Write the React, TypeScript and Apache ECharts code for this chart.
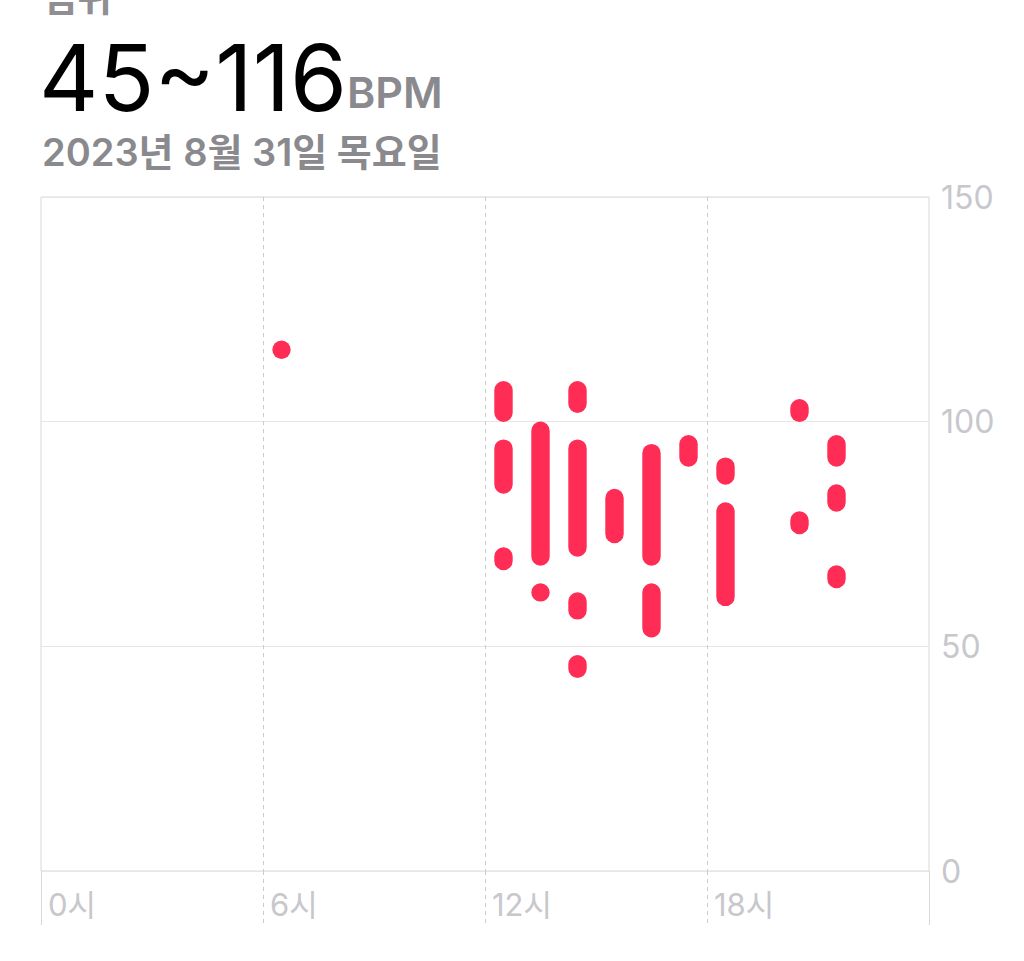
import React, { useEffect, useRef } from "react";
import * as echarts from "echarts";

// Heart rate ranges, hour of day (bin centre), max bpm, min bpm
const hours = [6.5, 12.5, 12.5, 12.5, 13.5, 13.5, 14.5, 14.5, 14.5, 14.5, 15.5, 16.5, 16.5, 17.5, 18.5, 18.5, 20.5, 20.5, 21.5, 21.5, 21.5];
const maxBpm = [116, 107, 94, 70, 98, 62, 107, 94, 60, 46, 83, 93, 62, 95, 90, 80, 103, 78, 95, 84, 66];
const minBpm = [116, 102, 86, 69, 70, 62, 104, 72, 58, 45, 75, 70, 54, 92, 88, 61, 102, 77, 92, 82, 65];

const titleLabel = "범위";
const rangeText = "45~116";
const unitText = "BPM";
const dateText = "2023년 8월 31일 목요일";
const hourSuffix = "시";

const FONT = "Inter, 'Noto Sans CJK KR', sans-serif";
const PINK = "#FF2D55";

export default function App() {
  const ref = useRef<HTMLDivElement>(null);
  useEffect(() => {
    if (!ref.current) return;
    const chart = echarts.init(ref.current, null, { renderer: "svg" });
    const data = hours.map((h, i) => [h, maxBpm[i], minBpm[i]]);
    chart.setOption({
      animation: false,
      backgroundColor: "#ffffff",
      textStyle: { fontFamily: FONT },
      grid: {
        left: 41,
        right: 95,
        top: 197,
        bottom: 90,
        show: true,
        borderColor: "#d8d8d8",
        borderWidth: 1,
        backgroundColor: "transparent",
      },
      graphic: [
        {
          type: "text",
          left: 42,
          top: -22,
          style: { text: titleLabel, font: `600 38px ${FONT}`, fill: "#8e8e93" },
        },
        {
          type: "text",
          x: 39,
          y: 77,
          style: {
            text: rangeText,
            font: `400 92px ${FONT}`,
            fill: "#000000",
            verticalAlign: "middle",
            align: "left",
          },
        },
        {
          type: "text",
          x: 347,
          y: 92,
          style: {
            text: unitText,
            font: `600 43px ${FONT}`,
            fill: "#8a8a8e",
            verticalAlign: "middle",
            align: "left",
          },
        },
        {
          type: "text",
          x: 42,
          y: 152,
          style: {
            text: dateText,
            font: `600 38px ${FONT}`,
            fill: "#8a8a8e",
            verticalAlign: "middle",
            align: "left",
          },
        },
      ],
      xAxis: [
        {
          type: "value",
          min: 0,
          max: 24,
          interval: 6,
          axisLine: { show: false },
          axisTick: {
            show: true,
            length: 54,
            lineStyle: { color: "#cccccc", type: [4, 4], width: 1 },
          },
          splitLine: {
            show: true,
            showMinLine: false,
            showMaxLine: false,
            lineStyle: { color: "#cccccc", type: [4, 4], width: 1 },
          },
          axisLabel: {
            show: true,
            color: "#c7c7cc",
            fontSize: 31,
            fontFamily: FONT,
            align: "left",
            margin: 18,
            padding: [0, 0, 0, 7],
            showMaxLabel: false,
            formatter: (v: number) => (v < 24 ? `${v}${hourSuffix}` : ""),
          },
        },
        {
          type: "value",
          position: "bottom",
          min: 0,
          max: 24,
          interval: 24,
          axisLine: { show: false },
          axisTick: {
            show: true,
            length: 54,
            lineStyle: { color: "#d8d8d8", width: 1 },
          },
          splitLine: { show: false },
          axisLabel: { show: false },
        },
      ],
      yAxis: {
        type: "value",
        position: "right",
        min: 0,
        max: 150,
        interval: 50,
        axisLine: { show: false },
        axisTick: { show: false },
        splitLine: { show: true, lineStyle: { color: "#e6e6e6", width: 1 } },
        axisLabel: {
          color: "#c7c7cc",
          fontSize: 32,
          fontFamily: FONT,
          margin: 12,
          align: "left",
        },
      },
      series: [
        {
          type: "custom",
          xAxisIndex: 0,
          data,
          renderItem: (params: any, api: any) => {
            const x = api.value(0);
            const hi = api.value(1);
            const lo = api.value(2);
            const p1 = api.coord([x, hi]);
            const p2 = api.coord([x, lo]);
            const r = 9.2;
            return {
              type: "rect",
              shape: {
                x: p1[0] - r,
                y: p1[1] - r,
                width: 2 * r,
                height: p2[1] - p1[1] + 2 * r,
                r,
              },
              style: { fill: PINK },
            };
          },
        },
      ],
    });
    return () => chart.dispose();
  }, []);
  return (
    <div
      ref={ref}
      style={{ position: "fixed", left: 0, top: 0, width: 1024, height: 961, background: "#fff" }}
    />
  );
}
